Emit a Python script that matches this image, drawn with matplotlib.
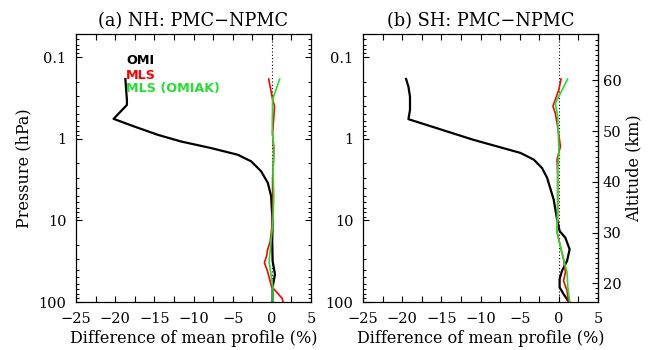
import numpy as np
import matplotlib
matplotlib.use("Agg")
import matplotlib.pyplot as plt
import matplotlib.ticker as ticker

plt.rcParams['font.family'] = ['DejaVu Serif']

# NH: OMI / MLS / MLS (OMIAK)  -- difference (%) vs pressure (hPa)
nh_omi_p = [0.185, 0.334, 0.385, 0.57, 0.708, 0.894, 1.08, 1.30, 1.57, 1.89, 2.5, 3.47,
            5.05, 7.3, 10, 17.9, 31.5, 45.5, 66, 100]
nh_omi_x = [-18.7, -18.5, -18.5, -20.2, -17.55, -14.56, -11.58, -7.75, -4.34, -2.64, -1.37, -0.51,
            -0.09, 0.0, 0.1, 0.05, 0.1, 0.4, 0.1, 0.1]
nh_mls_p = [0.185, 0.33, 0.40, 0.85, 1.5, 3.0, 7.0, 12, 17.9, 23, 27, 33, 42, 64, 90, 100]
nh_mls_x = [-0.4, 0.1, 0.35, 0.1, 0.25, 0.1, 0.1, 0.0, -0.2, -0.55, -0.65, -0.95, -0.55, -0.05, 1.3, 1.45]
nh_omiak_p = [0.185, 0.33, 0.85, 1.3, 2.5, 5.0, 10, 17.9, 32, 50, 66, 100]
nh_omiak_x = [1.0, 0.1, 0.05, 0.3, 0.15, 0.25, 0.15, -0.1, -0.35, -0.05, 0.15, 0.15]

# SH
sh_omi_p = [0.185, 0.23, 0.305, 0.443, 0.575, 1.03, 1.49, 1.8, 2.28, 3.0, 5.55, 9.7, 13.5,
            16.3, 22.6, 31.4, 41.5, 52.4, 66, 80, 100]
sh_omi_x = [-19.5, -19.2, -19.0, -19.0, -19.2, -10.9, -4.9, -3.2, -2.15, -1.5, -0.66, -0.23, 0.1,
            0.83, 1.38, 1.05, 0.4, 0.1, 0.1, 0.6, 1.3]
sh_mls_p = [0.185, 0.25, 0.40, 0.486, 0.71, 1.24, 1.8, 2.75, 7.0, 14.1, 20, 29.9, 43, 55, 72.6, 100]
sh_mls_x = [0.28, 0.0, -0.75, -0.45, -0.15, 0.2, -0.23, -0.15, -0.15, -0.2, 0.15, 0.6, 0.85, 0.6, 1.05, 1.25]
sh_omiak_p = [0.185, 0.277, 0.367, 0.53, 1.36, 2.6, 5.5, 14.1, 24.8, 43.4, 66, 100]
sh_omiak_x = [1.12, 0.2, -0.45, -0.15, 0.0, -0.15, -0.15, -0.23, 0.4, 1.05, 1.15, 1.4]

titles = ["(a) NH: PMC\u2212NPMC", "(b) SH: PMC\u2212NPMC"]
p_ticks = [0.1, 1, 10, 100]
p_labels = ["0.1", "1", "10", "100"]
alt_ticks = [20, 30, 40, 50, 60]

GREEN = '#22e030'

fig = plt.figure(figsize=(6.51, 3.5), dpi=100)
ax1 = fig.add_axes([76 / 651, 48 / 350, 235 / 651, 268 / 350])
ax2 = fig.add_axes([363 / 651, 48 / 350, 235 / 651, 268 / 350])


def z_of_p(p):
    p = np.clip(np.asarray(p, dtype=float), 1e-6, None)
    return 48.5 - 16.1 * np.log10(p)


def p_of_z(z):
    return 10 ** ((48.5 - np.asarray(z, dtype=float)) / 16.1)


panels = [
    (ax1, nh_omi_x, nh_omi_p, nh_mls_x, nh_mls_p, nh_omiak_x, nh_omiak_p),
    (ax2, sh_omi_x, sh_omi_p, sh_mls_x, sh_mls_p, sh_omiak_x, sh_omiak_p),
]

for i, (ax, ox, op, mx, mp, gx, gp) in enumerate(panels):
    ax.axvline(0, color='k', ls=(0, (1, 2)), lw=0.8)
    ax.plot(ox, op, color='k', lw=1.6)
    ax.plot(mx, mp, color='red', lw=1.2)
    ax.plot(gx, gp, color=GREEN, lw=1.2)
    ax.set_yscale('log')
    ax.set_ylim(100, 0.052)
    ax.set_xlim(-25, 5)
    ax.set_yticks(p_ticks)
    ax.set_yticklabels(p_labels)
    ax.yaxis.set_minor_locator(ticker.LogLocator(base=10, subs=np.arange(2, 10)))
    ax.yaxis.set_minor_formatter(ticker.NullFormatter())
    ax.xaxis.set_major_locator(ticker.MultipleLocator(5))
    ax.xaxis.set_minor_locator(ticker.MultipleLocator(2.5))
    ax.xaxis.set_major_formatter(ticker.FuncFormatter(lambda v, _: f'{int(v)}'.replace('-', '\u2212')))
    ax.tick_params(axis='x', which='both', direction='in', top=True, length=4, width=0.8,
                   labelsize=10.5, pad=7)
    ax.tick_params(axis='y', which='major', direction='in', length=4, width=0.8,
                   labelsize=10.5, pad=7, right=(i == 0))
    ax.tick_params(axis='y', which='minor', direction='in', length=2.5, width=0.7, right=(i == 0))
    for s in ax.spines.values():
        s.set_linewidth(0.9)
    ax.set_title(titles[i], fontsize=12.8, pad=6)
    ax.set_xlabel("Difference of mean profile (%)", fontsize=11.5, labelpad=3)

ax1.set_ylabel("Pressure (hPa)", fontsize=11.5, labelpad=4)

ax1.text(0.213, 0.900, "OMI", transform=ax1.transAxes, color='k',
         fontsize=9.2, fontweight='bold', family='DejaVu Sans', va='center')
ax1.text(0.213, 0.847, "MLS", transform=ax1.transAxes, color='red',
         fontsize=9.2, fontweight='bold', family='DejaVu Sans', va='center')
ax1.text(0.213, 0.795, "MLS (OMIAK)", transform=ax1.transAxes, color=GREEN,
         fontsize=9.2, fontweight='bold', family='DejaVu Sans', va='center')

sec = ax2.secondary_yaxis('right', functions=(z_of_p, p_of_z))
sec.yaxis.set_major_locator(ticker.FixedLocator(alt_ticks))
sec.yaxis.set_minor_locator(ticker.FixedLocator(np.arange(17, 69)))
sec.yaxis.set_major_formatter(ticker.FormatStrFormatter('%d'))
sec.yaxis.set_minor_formatter(ticker.NullFormatter())
sec.tick_params(which='major', direction='in', length=4, width=0.8, labelsize=10.5)
sec.tick_params(which='minor', direction='in', length=2.5, width=0.7)
sec.set_ylabel("Altitude (km)", fontsize=11.5, labelpad=3)

fig.savefig("out.png", dpi=100)
